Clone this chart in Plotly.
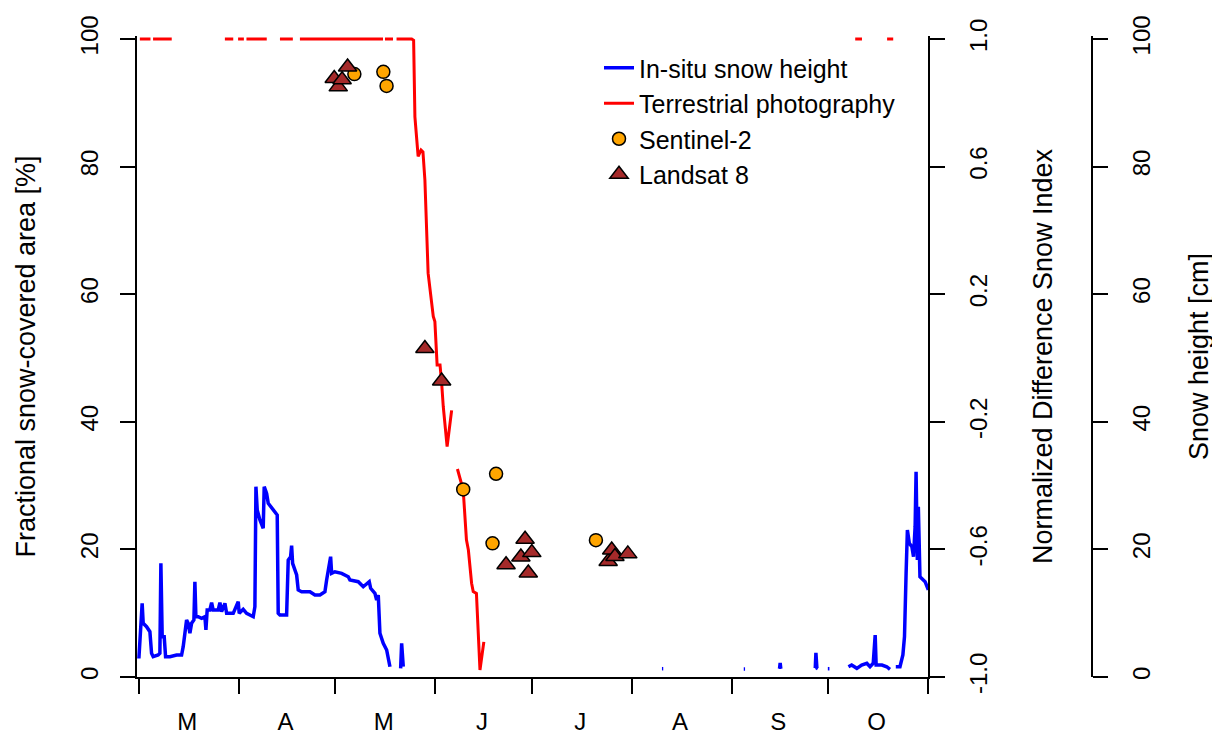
import pandas as pd
import plotly.graph_objects as go

# ---------------- data (days since 1 March) ----------------
SEASON_START = "2017-03-01"

month_starts = ["2017-03-01", "2017-04-01", "2017-05-01", "2017-06-01", "2017-07-01",
                "2017-08-01", "2017-09-01", "2017-10-01", "2017-11-01"]
month_mids = ["2017-03-16", "2017-04-15 12:00", "2017-05-16", "2017-06-15 12:00",
              "2017-07-16", "2017-08-16", "2017-09-15 12:00", "2017-10-16"]
month_labels = ["M", "A", "M", "J", "J", "A", "S", "O"]

fsc_ticks = [0, 20, 40, 60, 80, 100]
ndsi_ticks = [-1.0, -0.6, -0.2, 0.2, 0.6, 1.0]
ndsi_ticklabels = ["-1.0", "-0.6", "-0.2", "0.2", "0.6", "1.0"]
hs_ticks = [0, 20, 40, 60, 80, 100]

# In-situ snow height [cm]
snow_day = [0.0, 1.02, 1.34, 2.39, 3.42, 3.94, 4.44, 5.99, 6.52, 6.83, 7.24, 7.86, 8.29, 9.63,
            11.71, 13.26, 13.76, 14.81, 15.31, 15.84, 16.37, 17.08, 17.39, 17.70, 18.42, 19.47,
            20.50, 20.81, 21.21, 22.05, 22.58, 23.07, 24.63, 25.16, 25.68, 26.71, 27.24, 29.29,
            30.84, 31.15, 32.39, 33.45, 35.50, 36.02, 36.34, 36.74, 37.58, 38.60, 38.91, 39.66,
            40.16, 41.71, 42.95, 43.26, 43.79, 45.87, 46.37, 47.11, 47.42, 47.73, 48.45, 48.98,
            49.47, 50.53, 53.11, 54.66, 56.21, 57.76, 58.29, 58.79, 59.53, 59.84, 60.87, 62.95,
            65.00, 65.53, 68.11, 69.66, 70.71, 71.52, 71.96, 73.29, 73.82, 74.32, 74.84, 75.87,
            76.93, 77.95, None,
            81.27, 81.58, 82.08, None,
            162.4, 162.8, None,
            187.8, 188.2, None,
            198.9, 199.1, 199.3, None,
            210.0, 210.2, 210.5, 210.8, None,
            213.9, 214.4, None,
            220.3, 221.3, 222.9, 224.4, 226.0, 227.0, 228.0, 228.6, 228.9, 230.7, 232.2, 233.2, None,
            235.0, 236.3, 237.2, 237.7, 238.2, 238.6, 239.2, 240.0, 240.5, 241.0, 241.3, 241.7,
            242.0, 242.3, 242.5, 244.1, 245.1]
snow_cm = [2.9, 11.55, 8.42, 7.88, 7.10, 3.71, 3.18, 3.45, 3.71, 17.82, 6.32, 6.32, 3.18, 3.18,
           3.45, 3.45, 4.75, 8.93, 8.42, 6.85, 8.42, 8.93, 14.94, 9.45, 9.45, 9.20,
           9.45, 7.37, 10.50, 10.50, 11.65, 10.50, 10.50, 11.65, 10.24, 11.55, 9.98, 9.98,
           11.80, 9.98, 10.61, 9.98, 9.45, 11.02, 29.83, 26.18, 24.61, 23.31, 29.83, 28.79,
           27.23, 26.18, 25.39, 9.98, 9.72, 9.72, 18.34, 18.86, 20.58, 17.82, 16.77, 15.99,
           13.64, 13.37, 13.37, 12.85, 12.85, 13.37, 15.20, 16.50, 18.86, 16.25, 16.50, 16.25,
           15.72, 15.20, 14.94, 14.15, 14.69, 14.94, 13.90, 13.12, 12.07, 12.85, 6.85, 5.28,
           4.23, 1.61, None,
           1.36, 5.28, 1.61, None,
           1.3, 1.3, None,
           1.25, 1.25, None,
           1.3, 2.2, 1.3, None,
           1.4, 3.8, 1.4, 1.3, None,
           1.3, 1.3, None,
           1.61, 1.88, 1.36, 1.88, 2.15, 1.61, 2.15, 6.58, 1.88, 1.88, 1.61, 1.21, None,
           1.61, 1.61, 3.45, 6.32, 16.25, 23.04, 20.96, 20.42, 18.86, 23.56, 32.18, 18.34,
           26.69, 19.91, 15.72, 14.94, 13.64]

# Terrestrial photography fractional snow-covered area [%]
photo_day = [0.3, 3.6, None, 4.4, 10.2, None, 26.7, 29.3, None, 30.8, 32.6, None, 33.4, 39.7, None,
             43.8, 47.8, None, 50.0, 75.8, None, 76.4, 78.9, None,
             80.0, 84.7, 85.3, 85.7, 86.2, 86.7, 87.6, 88.2, 88.8, 89.3, 89.8, 91.4, 91.9, 92.6,
             93.5, 94.0, 94.5, 95.7, 97.1, None,
             98.9, 100.7, 101.7, 102.3, 103.3, 103.8, 104.8, 105.9, 107.1, None,
             222.4, 224.5, None, 232.3, 234.2]
photo_fsc = [100, 100, None, 100, 100, None, 100, 100, None, 100, 100, None, 100, 100, None,
             100, 100, None, 100, 100, None, 100, 100, None,
             100, 100, 99.8, 87.8, 84.7, 81.6, 82.6, 82.3, 77.9, 71.6, 63.3, 56.5, 55.7, 48.9,
             48.9, 46.1, 42.4, 36.1, 41.8, None,
             32.6, 29.3, 21.5, 19.9, 14.7, 13.4, 13.1, 1.1, 5.5, None,
             100, 100, None, 100, 100]

# Sentinel-2 NDSI
s2_day = [66.9, 75.9, 76.9, 100.7, 109.8, 110.9, 141.9]
s2_ndsi = [0.890, 0.897, 0.853, -0.412, -0.581, -0.363, -0.571]

# Landsat 8 NDSI
l8_day = [60.65, 61.9, 63.1, 64.8, 88.8, 94.0, 114.0, 118.6, 119.9, 120.9, 122.0,
          145.7, 146.8, 147.8, 151.8]
l8_ndsi = [0.876, 0.850, 0.872, 0.912, 0.030, -0.072, -0.648, -0.624, -0.568, -0.674, -0.610,
           -0.638, -0.602, -0.622, -0.614]


def to_dates(days):
    base = pd.Timestamp(SEASON_START)
    return [None if d is None else base + pd.Timedelta(days=d) for d in days]


FONT = "Liberation Sans, Arial, sans-serif"

fig = go.Figure()
fig.add_trace(go.Scatter(x=to_dates(snow_day), y=snow_cm, yaxis="y3", mode="lines",
                         line=dict(color="#0000FF", width=3.5), name="In-situ snow height"))
fig.add_trace(go.Scatter(x=to_dates(photo_day), y=photo_fsc, yaxis="y", mode="lines",
                         line=dict(color="#FF0000", width=3), name="Terrestrial photography"))
fig.add_trace(go.Scatter(x=to_dates(s2_day), y=s2_ndsi, yaxis="y2", mode="markers",
                         marker=dict(symbol="circle", size=13, color="#FFA500",
                                     line=dict(color="black", width=1.5)),
                         name="Sentinel-2"))
fig.add_trace(go.Scatter(x=to_dates(l8_day), y=l8_ndsi, yaxis="y2", mode="markers",
                         marker=dict(symbol="triangle-up", size=16, color="#A52A2A",
                                     line=dict(color="black", width=1.5)),
                         name="Landsat 8"))

# page body has an 8 px margin: lay the figure out in screen pixels minus that offset
OFF = 8
W, H = 1220, 736
PLOT_L, PLOT_R, PLOT_T, Y100, Y0 = 137, 928, 36, 39, 677   # screen pixels
L = PLOT_L - OFF
T = PLOT_T - OFF
B = H - (Y0 - OFF)
R = 10
pw = W - L - R
ph = H - T - B
xend = (PLOT_R - PLOT_L) / pw
pos3 = (1092 - PLOT_L) / pw
extra = ph / (ph - (Y100 - PLOT_T))  # small headroom so the 100 % line is not clipped

tickfont = dict(family=FONT, size=24, color="black")
titlefont = dict(family=FONT, size=27, color="black")
axis_common = dict(ticks="outside", ticklen=15, tickwidth=1.5, tickcolor="black",
                   tickangle=-90, tickfont=tickfont, ticklabelstandoff=13,
                   showline=True, linecolor="black", linewidth=1.5,
                   showgrid=False, zeroline=False, automargin=False)

fig.update_layout(
    width=W, height=H,
    margin=dict(l=L, r=R, t=T, b=B, pad=0, autoexpand=False),
    paper_bgcolor="white", plot_bgcolor="white",
    font=dict(family=FONT, color="black"),
    showlegend=True,
    legend=dict(x=(599 - PLOT_L) / pw, y=1 - (45 - PLOT_T) / ph, xanchor="left", yanchor="top",
                font=dict(family=FONT, size=25, color="black"), bgcolor="rgba(0,0,0,0)",
                tracegroupgap=0),
    xaxis=dict(
        domain=[0, xend], type="date",
        range=["2017-02-28 10:00", "2017-11-01"],
        tickmode="array", tickvals=month_mids, ticktext=month_labels,
        ticks="", showticklabels=True, tickfont=tickfont, ticklabelstandoff=22,
        minor=dict(tickmode="array", tickvals=month_starts, ticks="outside", ticklen=15,
                   tickwidth=1.5, tickcolor="black", showgrid=False),
        showline=True, linecolor="black", linewidth=1.5,
        showgrid=False, zeroline=False, automargin=False,
    ),
    yaxis=dict(
        range=[0, 100 * extra], tickmode="array", tickvals=fsc_ticks,
        title=dict(text="Fractional snow-covered area [%]", font=titlefont, standoff=32),
        **axis_common,
    ),
    yaxis2=dict(
        range=[-1, -1 + 2 * extra], overlaying="y", side="right", anchor="x",
        tickmode="array", tickvals=ndsi_ticks, ticktext=ndsi_ticklabels,
        title=dict(text="Normalized Difference Snow Index", font=titlefont, standoff=43),
        **axis_common,
    ),
    yaxis3=dict(
        range=[0, 100 * extra], overlaying="y", side="right", anchor="free", position=pos3,
        tickmode="array", tickvals=hs_ticks,
        title=dict(text="Snow height [cm]", font=titlefont, standoff=35),
        **axis_common,
    ),
)

fig.write_html("out.html")
